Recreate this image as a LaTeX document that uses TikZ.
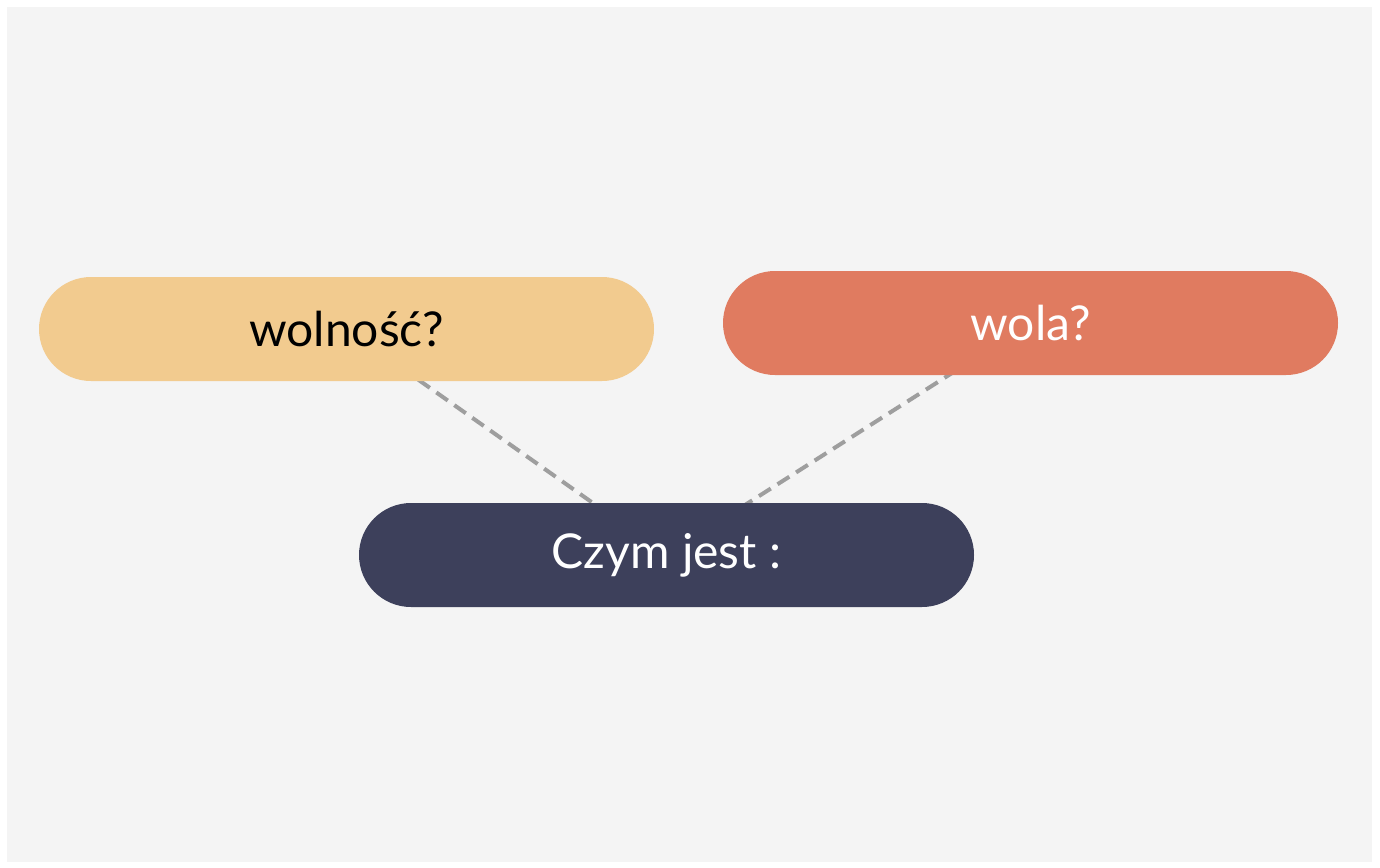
\documentclass[tikz,border=0pt]{standalone}
\usepackage{fontspec}
\setmainfont{Lato}
\usetikzlibrary{shapes.misc}
\definecolor{bggray}{HTML}{F4F4F4}
\definecolor{sand}{HTML}{F2CB8F}
\definecolor{coral}{HTML}{E07B60}
\definecolor{navy}{HTML}{3D405B}
\definecolor{dashgray}{HTML}{9E9E9E}
\begin{document}
\begin{tikzpicture}[x=1pt,y=-1pt,
  pill/.style={rounded rectangle, minimum width=615pt, minimum height=104pt, inner sep=0pt, font=\fontsize{48}{56}\selectfont},
  link/.style={draw=dashgray, line width=4pt, dash pattern=on 14pt off 8pt}]
\useasboundingbox[fill=white] (0,0) rectangle (1380,867);
\fill[bggray] (7,7) rectangle (1372,862);
\coordinate (c1) at (346.5,329);
\coordinate (c2) at (1030.5,323);
\coordinate (c3) at (666.5,555);
\draw[link] (c1) -- (c3);
\draw[link] (c2) -- (c3);
\node[pill, fill=sand, text=black] (wolnosc) at (c1) {wolność?};
\node[pill, fill=coral, text=white] (wola) at (c2) {wola?};
\node[pill, fill=navy, text=white] (czym) at (c3) {Czym jest :};
\end{tikzpicture}
\end{document}
